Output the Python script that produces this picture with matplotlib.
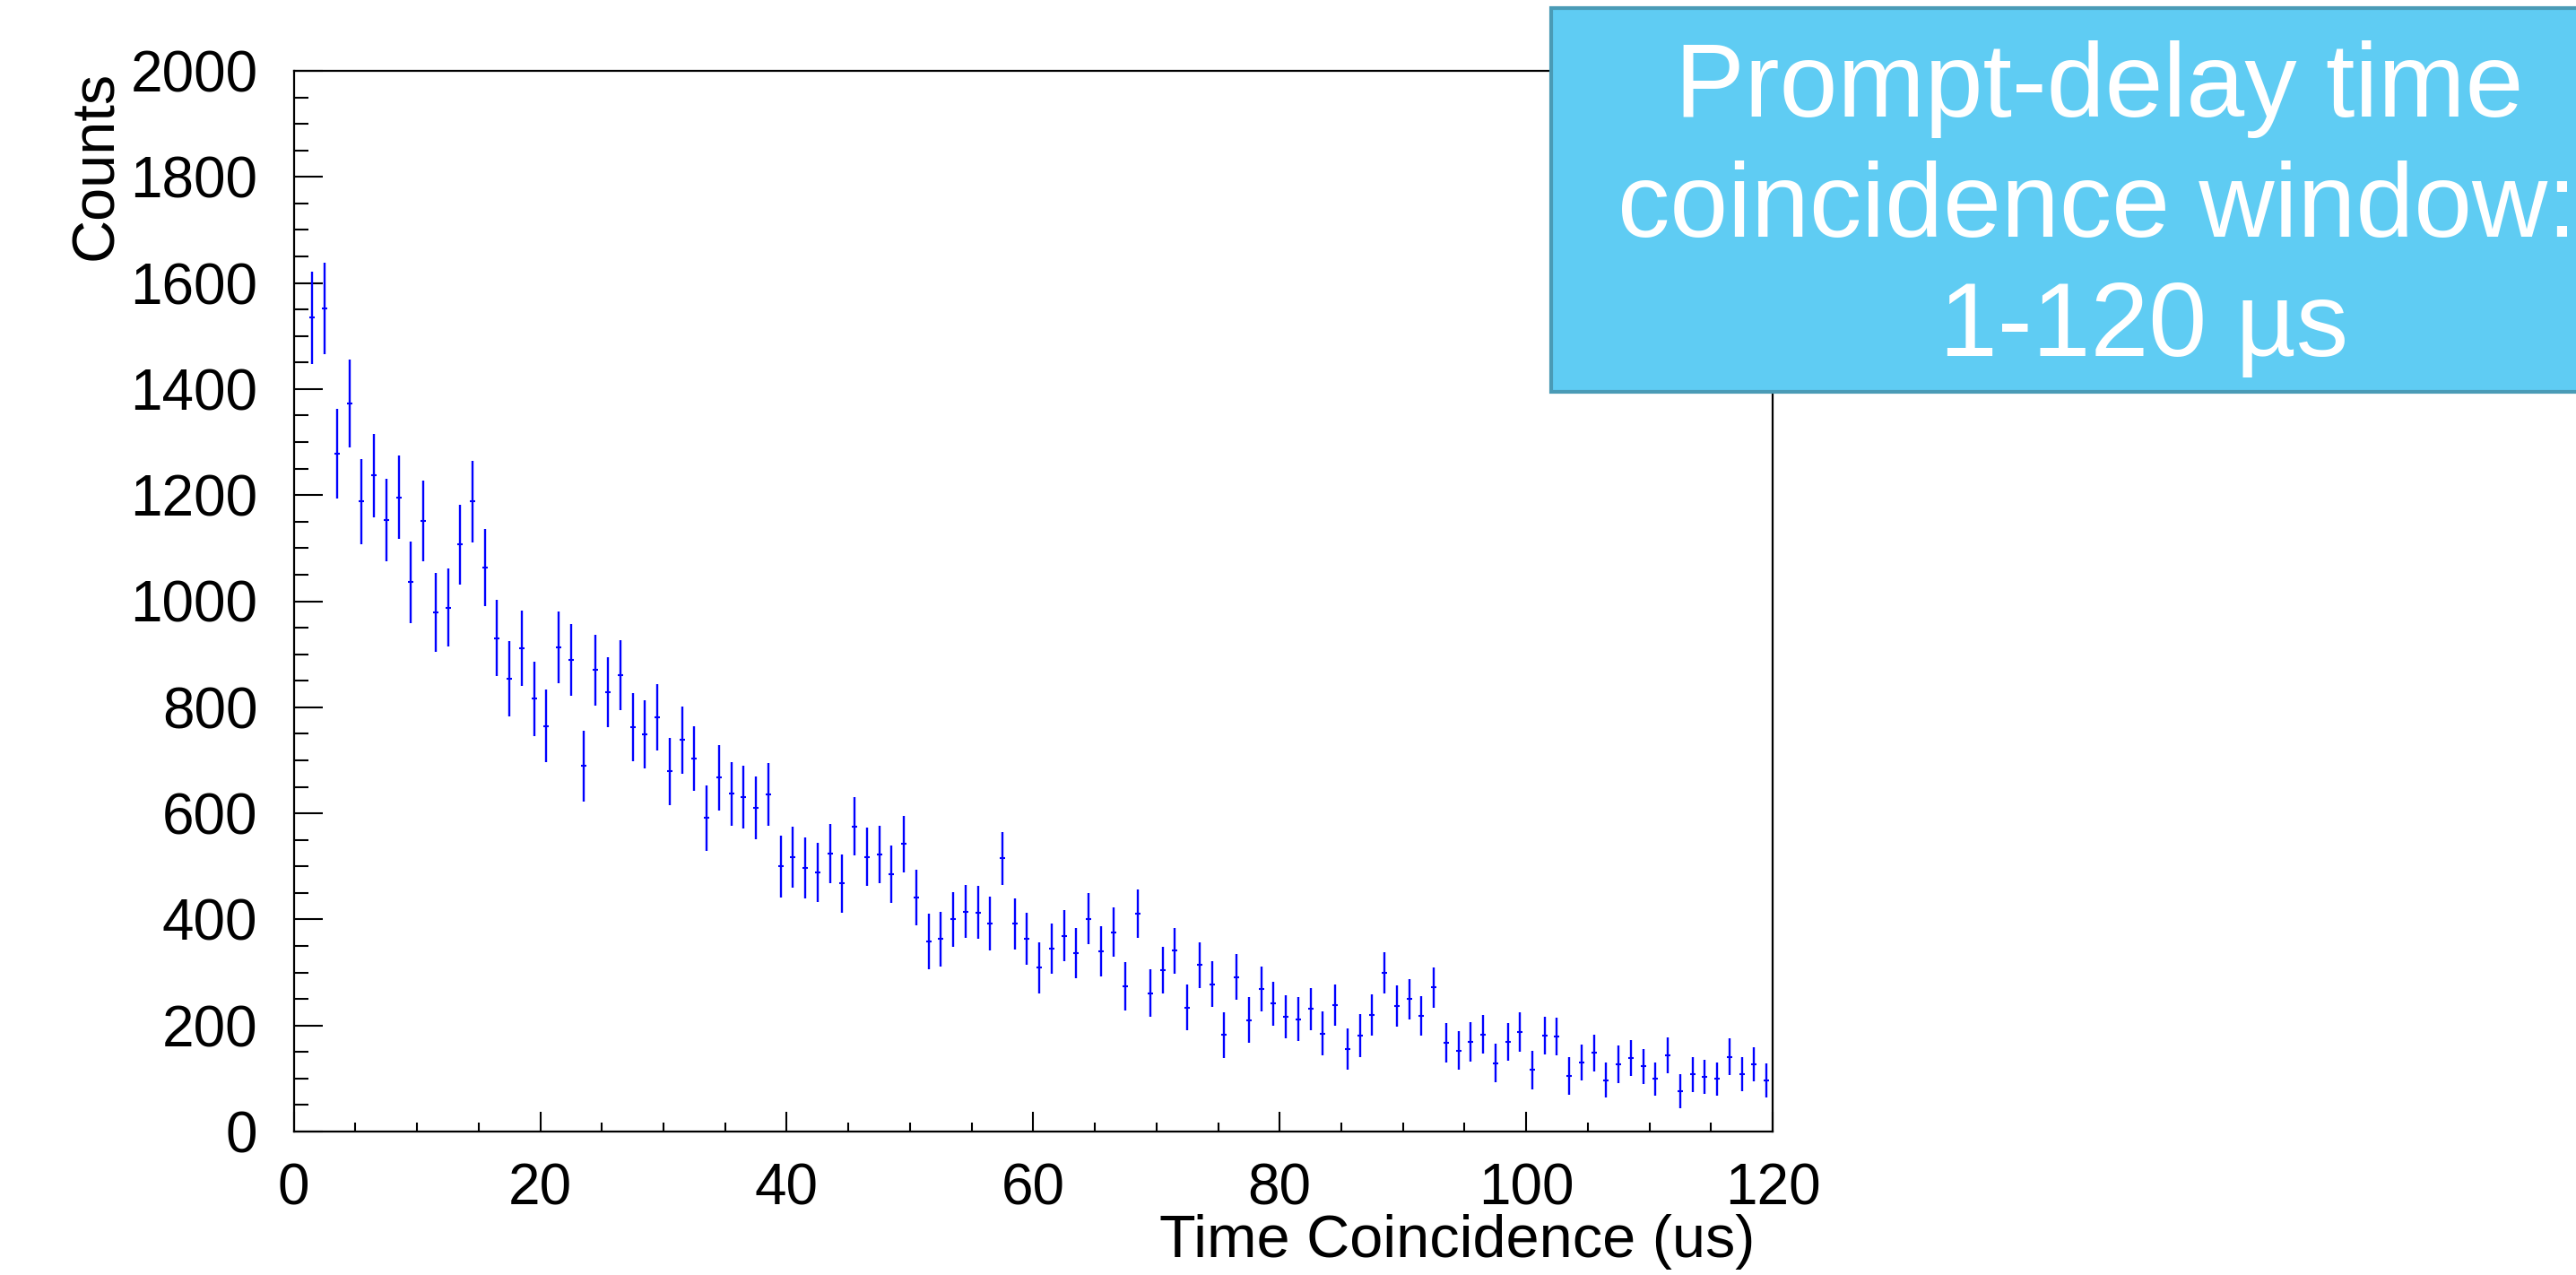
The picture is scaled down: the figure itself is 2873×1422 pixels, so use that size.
import matplotlib
matplotlib.use('Agg')
from matplotlib import pyplot as plt
from matplotlib.patches import Rectangle
from matplotlib.ticker import MultipleLocator

plt.rcParams['font.family'] = ['Liberation Sans', 'DejaVu Sans']

# bin centres (us) and counts
time_us = [i + 0.5 for i in range(1, 120)]
counts = [1535, 1552, 1278, 1373, 1188, 1237, 1153, 1196, 1036, 1151,
          979, 988, 1107, 1188, 1063, 930, 853, 912, 816, 765,
          913, 889, 689, 870, 829, 861, 762, 749, 781, 679,
          738, 704, 591, 667, 637, 631, 610, 636, 500, 517,
          497, 488, 524, 468, 575, 518, 523, 485, 542, 441,
          358, 363, 400, 415, 413, 392, 515, 392, 363, 309,
          345, 369, 336, 401, 340, 376, 274, 411, 261, 304,
          341, 234, 314, 278, 182, 291, 210, 269, 241, 216,
          212, 231, 185, 238, 156, 181, 220, 299, 236, 250,
          218, 272, 168, 153, 169, 183, 129, 169, 188, 116,
          181, 179, 105, 130, 148, 97, 127, 138, 123, 99,
          144, 76, 108, 103, 99, 141, 108, 127, 97]
errors = [87, 86, 85, 83, 80, 79, 78, 78, 77, 76,
          75, 74, 75, 77, 73, 72, 71, 71, 70, 68,
          68, 68, 67, 67, 66, 66, 64, 65, 63, 63,
          63, 61, 61, 61, 60, 59, 59, 59, 58, 57,
          57, 56, 56, 55, 55, 55, 54, 54, 53, 53,
          52, 52, 51, 50, 50, 51, 50, 48, 49, 48,
          47, 48, 47, 48, 47, 46, 45, 45, 45, 44,
          43, 43, 43, 43, 43, 43, 43, 42, 42, 41,
          41, 40, 41, 39, 39, 40, 39, 39, 39, 38,
          37, 38, 37, 37, 37, 36, 36, 36, 37, 36,
          36, 35, 35, 34, 35, 33, 35, 34, 33, 32,
          34, 32, 33, 32, 32, 34, 32, 32, 32]

W, H = 2873, 1422
fig = plt.figure(figsize=(W / 100, H / 100), dpi=100)
ax = fig.add_axes([327.7 / W, (H - 1262) / H, (1977 - 327.7) / W, (1262 - 79) / H])

ax.errorbar(time_us, counts, yerr=errors, fmt='_', color='#0000ff',
            ecolor='#0000ff', elinewidth=1.7, markersize=4, markeredgewidth=1.5,
            capsize=0)

ax.set_xlim(0, 120)
ax.set_ylim(0, 2000)
ax.xaxis.set_major_locator(MultipleLocator(20))
ax.xaxis.set_minor_locator(MultipleLocator(5))
ax.yaxis.set_major_locator(MultipleLocator(200))
ax.yaxis.set_minor_locator(MultipleLocator(50))

ax.tick_params(axis='both', which='both', direction='in', top=False, right=False,
               width=1.5, labelsize=46)
ax.tick_params(axis='x', which='major', length=16, pad=25)
ax.tick_params(axis='x', which='minor', length=7.5)
ax.tick_params(axis='y', which='major', length=23, pad=29)
ax.tick_params(axis='y', which='minor', length=11.5)
for sp in ax.spines.values():
    sp.set_linewidth(1.6)

ax.set_xlabel('Time Coincidence (us)', fontsize=48, ha='right', va='top')
ax.xaxis.set_label_coords(0.988, -0.078)
ax.set_ylabel('Counts', fontsize=48, ha='right', va='center')
ax.yaxis.set_label_coords(-0.133, 1.0)

# annotation box in the upper right corner
box = Rectangle((1730 / W, (H - 437) / H), 0.45, 428 / H, transform=fig.transFigure,
                facecolor='#5fccf3', edgecolor='#4a9bb6', linewidth=3, clip_on=False)
fig.patches.append(box)
fig.text(2341 / W, (H - 130) / H, 'Prompt-delay time', color='white', fontsize=84,
         ha='center', va='baseline')
fig.text(2339 / W, (H - 264) / H, 'coincidence window:', color='white', fontsize=84,
         ha='center', va='baseline')
fig.text(2391 / W, (H - 397) / H, '1-120 µs', color='white', fontsize=84,
         ha='center', va='baseline')

fig.savefig('out.png', dpi=100)
